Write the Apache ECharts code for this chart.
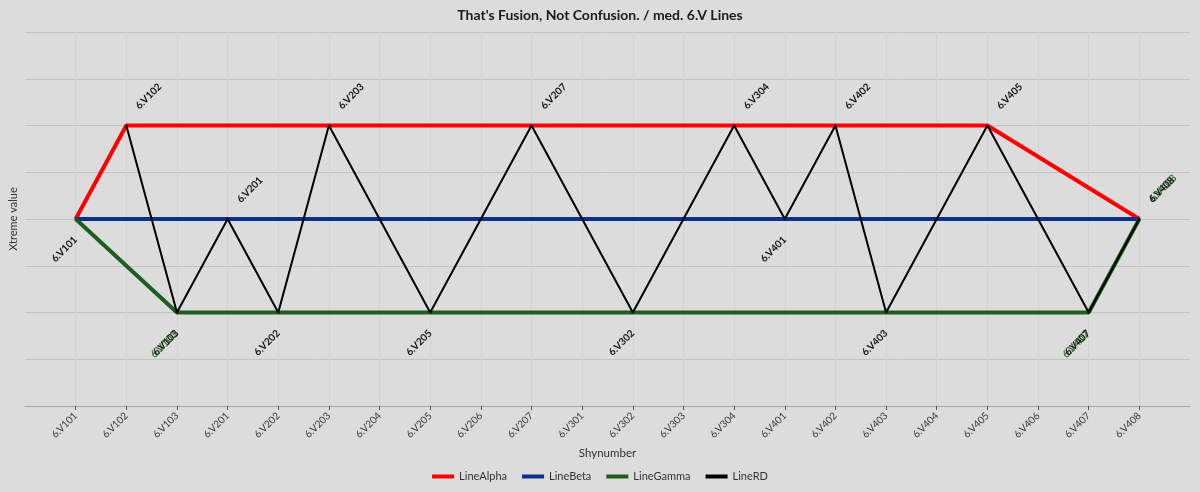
<!DOCTYPE html>
<html>
<head>
<meta charset="utf-8">
<title>6.V Lines</title>
<script src="https://cdn.jsdelivr.net/npm/echarts@6/dist/echarts.min.js"></script>
<style>
  html, body { margin: 0; padding: 0; background: #dcdcdc; }
  #chart { width: 1200px; height: 492px; }
</style>
</head>
<body>
<div id="chart"></div>
<script>
const categories = [
  "6.V101", "6.V102", "6.V103", "6.V201", "6.V202", "6.V203", "6.V204", "6.V205",
  "6.V206", "6.V207", "6.V301", "6.V302", "6.V303", "6.V304", "6.V401", "6.V402",
  "6.V403", "6.V404", "6.V405", "6.V406", "6.V407", "6.V408",
];

const lineAlpha = [0, 2, null, null, null, null, null, null, null, null, null, null, null, null, null, null, null, null, 2, null, null, 0];
const lineBeta = [0, null, null, null, null, null, null, null, null, null, null, null, null, null, null, null, null, null, null, null, null, 0];
const lineGamma = [0, null, -2, null, null, null, null, null, null, null, null, null, null, null, null, null, null, null, null, null, -2, 0];
const lineRD = [null, 2, -2, 0, -2, 2, null, -2, null, 2, null, -2, null, 2, 0, 2, -2, null, 2, null, -2, 0];

// one empty slot each side so the first/last point sits away from the axis ends
function pad(values) {
  return [null, ...values, null];
}

function neighbour(values, i, step) {
  for (let j = i + step; j >= 0 && j < values.length; j += step) {
    if (values[j] !== null) return values[j];
  }
  return null;
}

function isPeak(values, i) {
  const prev = neighbour(values, i, -1);
  const next = neighbour(values, i, 1);
  const v = values[i];
  return (prev === null || v >= prev) && (next === null || v >= next);
}

function pointLabel(above, color, size, shift) {
  const s = shift || 0;
  return {
    show: true,
    rotate: 45,
    color: color,
    fontSize: size,
    fontWeight: "bold",
    fontFamily: "Lato",
    verticalAlign: "middle",
    align: above ? "left" : "right",
    position: above ? [12 + s, -17 - s] : [1 - s, 20 + s],
    formatter: (p) => p.name,
  };
}

function buildData(values, labelRule) {
  return pad(values.map((v, i) => {
    if (v === null) return null;
    const label = labelRule(values, i);
    return label ? { value: v, label } : { value: v, label: { show: false } };
  }));
}

const rdLabels = (values, i) => pointLabel(isPeak(values, i), "#141414", 10);
const gammaLabels = (values, i) =>
  lineRD[i] !== null ? pointLabel(isPeak(values, i), "#3b7a3b", 10.5, 1) : null;
const betaLabels = (values, i) => (i === 0 ? pointLabel(false, "#141414", 10) : null);

function lineSeries(name, color, width, data) {
  return {
    name,
    type: "line",
    data,
    connectNulls: true,
    symbol: "circle",
    symbolSize: 2,
    itemStyle: { color },
    lineStyle: { color, width },
    emphasis: { disabled: true },
  };
}

const padded = ["", ...categories, ""];

const chart = echarts.init(document.getElementById("chart"));
chart.setOption({
  animation: false,
  backgroundColor: "#dcdcdc",
  textStyle: { fontFamily: "Lato" },
  title: {
    text: "That's Fusion, Not Confusion. / med. 6.V Lines",
    left: "center",
    top: 3,
    textStyle: { fontSize: 14, fontWeight: "bold", color: "#1a1a1a", fontFamily: "Lato" },
  },
  legend: {
    bottom: 5,
    left: "center",
    icon: "rect",
    itemWidth: 22,
    itemHeight: 4,
    itemGap: 15,
    textStyle: { fontSize: 11, color: "#333" },
    data: ["LineAlpha", "LineBeta", "LineGamma", "LineRD"],
  },
  grid: { left: 23, right: 10, top: 32, bottom: 86, containLabel: false },
  xAxis: {
    type: "category",
    data: padded,
    boundaryGap: false,
    name: "Shynumber",
    nameLocation: "middle",
    nameGap: 40,
    nameTextStyle: { fontSize: 11.5, color: "#333" },
    axisLine: { onZero: false, lineStyle: { color: "#a8a8a8" } },
    axisTick: {
      interval: (i, v) => v !== "",
      length: 4,
      lineStyle: { color: "#555" },
    },
    axisLabel: {
      interval: 0,
      rotate: 45,
      fontSize: 10,
      color: "#3a3a3a",
      margin: 8,
    },
    splitLine: {
      show: true,
      interval: (i, v) => v !== "",
      lineStyle: { color: "#d3d3d3", width: 1 },
    },
  },
  yAxis: {
    type: "value",
    min: -4,
    max: 4,
    interval: 1,
    name: "Xtreme value",
    nameLocation: "middle",
    nameGap: 6,
    nameTextStyle: { fontSize: 11, color: "#333" },
    axisLabel: { show: false },
    axisLine: { show: false },
    axisTick: { show: false },
    splitLine: { lineStyle: { color: "#c2c2c2", width: 1 } },
  },
  series: [
    lineSeries("LineAlpha", "#ff0000", 4, buildData(lineAlpha, () => null)),
    lineSeries("LineBeta", "#0a2f8c", 4, buildData(lineBeta, betaLabels)),
    lineSeries("LineGamma", "#1d5e1f", 4, buildData(lineGamma, gammaLabels)),
    lineSeries("LineRD", "#000000", 2, buildData(lineRD, rdLabels)),
  ],
});
</script>
</body>
</html>
